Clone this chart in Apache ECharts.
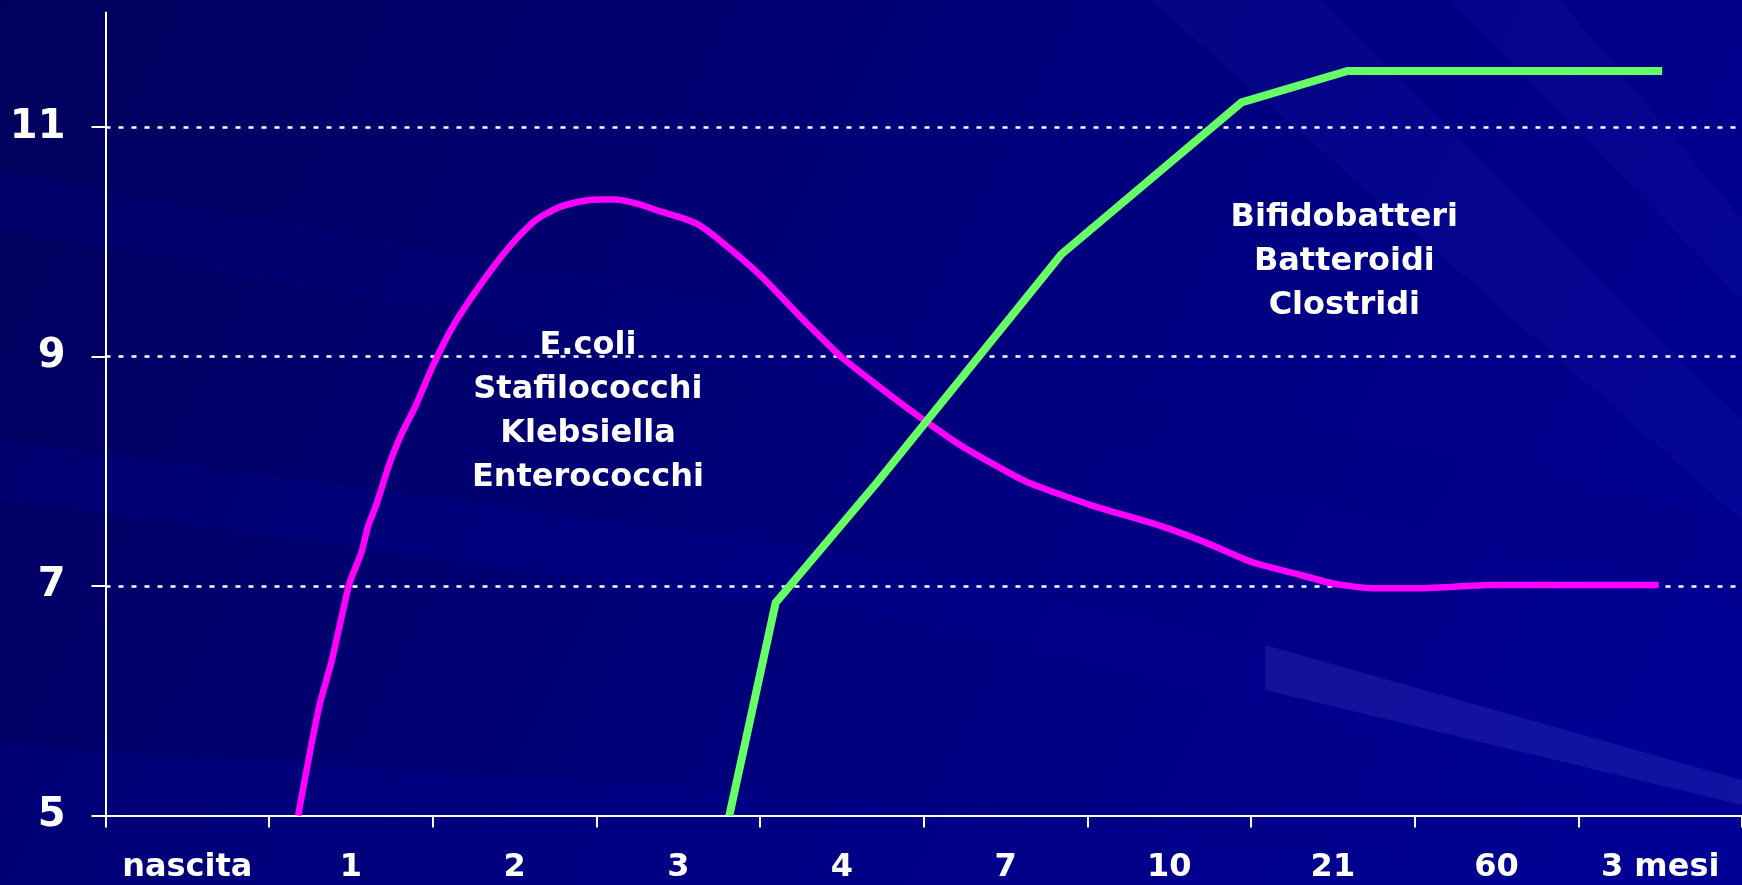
<!DOCTYPE html>
<html>
<head>
<meta charset="utf-8">
<title>Colonizzazione intestinale</title>
<script src="https://cdn.jsdelivr.net/npm/echarts@6/dist/echarts.min.js"></script>
<style>
  html, body { margin: 0; padding: 0; width: 100%; height: 100%; overflow: hidden; background: #000070; }
  #chart { width: 1742px; height: 885px; }
</style>
</head>
<body>
<div id="chart"></div>
<script>
// Time points along the x axis (days after birth, then months)
const categories = ['nascita', '1', '2', '3', '4', '7', '10', '21', '60', '3 mesi'];

// Tick values of the log10 count axis
const yTicks = [5, 7, 9, 11];

// log10 bacterial counts; x is measured in category slots from the left axis
const ecoliCurve = [
  [1.177, 5.0], [1.249, 5.55], [1.309, 5.97], [1.381, 6.34], [1.441, 6.72],
  [1.492, 7.03], [1.563, 7.29], [1.604, 7.52], [1.655, 7.71], [1.736, 8.07],
  [1.817, 8.35], [1.898, 8.58], [2.0, 8.92], [2.121, 9.26], [2.243, 9.53],
  [2.385, 9.81], [2.507, 10.02], [2.629, 10.19], [2.751, 10.29], [2.893, 10.35],
  [3.015, 10.37], [3.116, 10.37], [3.259, 10.33], [3.38, 10.27], [3.522, 10.21],
  [3.624, 10.15], [3.766, 10.0], [4.008, 9.70], [4.251, 9.34], [4.494, 9.00],
  [4.716, 8.75], [4.959, 8.49], [5.222, 8.23], [5.404, 8.08], [5.627, 7.91],
  [6.011, 7.71], [6.456, 7.52], [6.739, 7.37], [7.003, 7.21], [7.266, 7.11],
  [7.509, 7.02], [7.751, 6.98], [7.994, 6.98], [8.479, 7.01], [9.491, 7.01]
];
const bifidoCurve = [
  [3.812, 5.0], [4.095, 6.855], [4.716, 7.905], [5.841, 9.893],
  [6.942, 11.217], [7.59, 11.49], [9.512, 11.49]
];

// Group labels and where they sit in data space
const ecoliGroup = ['E.coli', 'Stafilococchi', 'Klebsiella', 'Enterococchi'];
const bifidoGroup = ['Bifidobatteri', 'Batteroidi', 'Clostridi'];
const groupAnchors = [[2.948, 8.52], [7.57, 9.83]];

const chart = echarts.init(document.getElementById('chart'), null, { renderer: 'canvas' });

// Soft light streaks across the slide background
function streak(points, color) {
  return { type: 'polygon', z: -10, silent: true, shape: { points: points }, style: { fill: color } };
}

const groupLabel = {
  show: true,
  position: 'inside',
  color: '#ffffff',
  opacity: 1,
  fontFamily: 'DejaVu Sans',
  fontWeight: 'bold',
  fontSize: 32,
  lineHeight: 44,
  align: 'center',
  verticalAlign: 'middle'
};

chart.setOption({
  animation: false,
  backgroundColor: {
    type: 'linear', x: 0, y: 0, x2: 1, y2: 1,
    colorStops: [
      { offset: 0, color: '#00005c' },
      { offset: 0.5, color: '#00007c' },
      { offset: 1, color: '#000096' }
    ]
  },
  graphic: [
    streak([[0, 170], [700, 300], [1742, 520], [1742, 600], [700, 360], [0, 230]], 'rgba(0,0,130,0.30)'),
    streak([[0, 440], [900, 560], [1742, 760], [1742, 820], [900, 620], [0, 500]], 'rgba(0,0,150,0.28)'),
    streak([[0, 745], [800, 795], [1742, 885], [0, 885]], 'rgba(0,0,150,0.30)'),
    streak([[1265, 645], [1742, 780], [1742, 805], [1265, 690]], 'rgba(90,90,220,0.20)'),
    streak([[1150, 0], [1320, 0], [1742, 420], [1742, 520]], 'rgba(40,40,190,0.12)'),
    streak([[1450, 0], [1560, 0], [1742, 220], [1742, 300]], 'rgba(40,40,190,0.12)')
  ],
  grid: { left: 105.5, top: 12.5, width: 1642, bottom: 69.5, containLabel: false },
  xAxis: [
    {
      type: 'category',
      data: categories,
      boundaryGap: true,
      axisLine: { show: true, lineStyle: { color: '#ffffff', width: 2 } },
      axisTick: { show: true, length: 12, alignWithLabel: false, lineStyle: { color: '#ffffff', width: 2 } },
      axisLabel: {
        color: '#ffffff', fontFamily: 'DejaVu Sans', fontWeight: 'bold', fontSize: 32,
        margin: 36, interval: 0
      },
      splitLine: { show: false }
    },
    { type: 'value', min: 0, max: 10, show: false }
  ],
  yAxis: {
    type: 'value',
    min: 5,
    max: 12,
    interval: 2,
    axisLine: { show: true, lineStyle: { color: '#ffffff', width: 2 } },
    axisTick: { show: true, length: 14, customValues: yTicks, lineStyle: { color: '#ffffff', width: 2 } },
    axisLabel: {
      color: '#ffffff', fontFamily: 'DejaVu Sans', fontWeight: 'bold', fontSize: 40,
      margin: 40, customValues: yTicks
    },
    splitLine: { show: true, showMinLine: false, lineStyle: { color: '#ffffff', width: 2.5, type: [5, 8] } }
  },
  series: [
    {
      name: 'E.coli',
      type: 'line',
      xAxisIndex: 1,
      data: ecoliCurve,
      smooth: 0.2,
      symbol: 'none',
      clip: false,
      z: 3,
      lineStyle: { color: '#ff00ff', width: 6.5 }
    },
    {
      name: 'Bifidobatteri',
      type: 'line',
      xAxisIndex: 1,
      data: bifidoCurve,
      smooth: false,
      symbol: 'none',
      clip: false,
      z: 4,
      lineStyle: { color: '#66ff66', width: 8, cap: 'butt', join: 'miter' }
    },
    {
      name: 'gruppi',
      type: 'scatter',
      xAxisIndex: 1,
      symbolSize: 0,
      silent: true,
      z: 5,
      itemStyle: { opacity: 1 },
      data: [
        { value: groupAnchors[0], label: Object.assign({}, groupLabel, { formatter: ecoliGroup.join('\n') }) },
        { value: groupAnchors[1], label: Object.assign({}, groupLabel, { formatter: bifidoGroup.join('\n') }) }
      ]
    }
  ]
});
</script>
</body>
</html>
